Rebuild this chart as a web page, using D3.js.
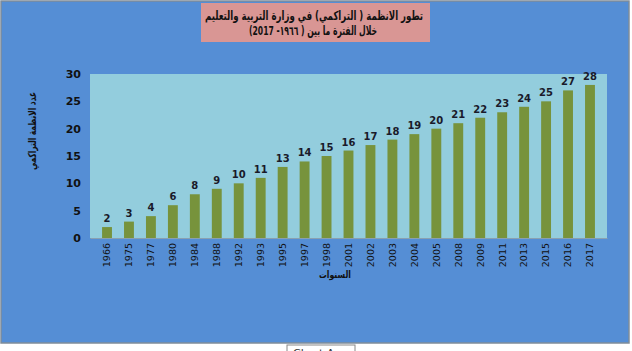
<!DOCTYPE html>
<html>
<head>
<meta charset="utf-8">
<script src="https://cdn.jsdelivr.net/npm/d3@7"></script>
<style>
  body { margin: 0; background: #fff; }
  text { font-family: "DejaVu Sans", Arial, sans-serif; }
</style>
</head>
<body>
<script>
const years = ["1966", "1975", "1977", "1980", "1984", "1988", "1992", "1993", "1995", "1997", "1998", "2001",
  "2002", "2003", "2004", "2005", "2008", "2009", "2011", "2013", "2015", "2016", "2017"];
const totals = [2, 3, 4, 6, 8, 9, 10, 11, 13, 14, 15, 16, 17, 18, 19, 20, 21, 22, 23, 24, 25, 27, 28];
const yTicks = [0, 5, 10, 15, 20, 25, 30];
const titleLines = ["تطور الانظمة  ( التراكمي) في وزارة التربية والتعليم", "خلال الفترة ما بين ( ١٩٦٦-  2017)"];
const titleWidths = [218, 128];

const data = years.map((y, i) => ({ year: y, value: totals[i] }));

const svg = d3.select("body").append("svg")
  .attr("width", 632)
  .attr("height", 351);

// chart area
svg.append("rect")
  .attr("x", 1).attr("y", 1)
  .attr("width", 628).attr("height", 342)
  .attr("fill", "#558ed5")
  .attr("stroke", "#7f8c99")
  .attr("stroke-width", 1.5);

const margin = { top: 74, left: 90 };
const width = 517;
const height = 164;

const g = svg.append("g")
  .attr("transform", "translate(" + margin.left + "," + margin.top + ")");

g.append("rect")
  .attr("width", width)
  .attr("height", height)
  .attr("fill", "#93cddd");

const x = d3.scaleBand().domain(years).range([0, width]).padding(0.55);
const y = d3.scaleLinear().domain([0, 30]).range([height, 0]);

g.selectAll(".bar")
  .data(data)
  .enter()
  .append("rect")
  .attr("class", "bar")
  .attr("x", (d) => x(d.year))
  .attr("y", (d) => y(d.value))
  .attr("width", x.bandwidth())
  .attr("height", (d) => height - y(d.value))
  .attr("fill", "#77933c");

g.selectAll(".lbl")
  .data(data)
  .enter()
  .append("text")
  .attr("class", "lbl")
  .attr("x", (d) => x(d.year) + x.bandwidth() / 2)
  .attr("y", (d) => y(d.value) - 5)
  .attr("text-anchor", "middle")
  .style("font-size", "10px")
  .style("font-weight", "bold")
  .attr("fill", "#1a1a2a")
  .text((d) => d.value);

const yAxis = g.append("g")
  .call(d3.axisLeft(y).tickValues(yTicks).tickSize(0).tickPadding(9));
yAxis.select(".domain").remove();
yAxis.selectAll("text")
  .style("font-size", "11px")
  .style("font-weight", "bold")
  .attr("fill", "#111");

const xAxis = g.append("g")
  .attr("transform", "translate(0," + height + ")")
  .call(d3.axisBottom(x).tickSize(0));
xAxis.select(".domain").attr("stroke", "#8aa0b0");
xAxis.selectAll("text")
  .attr("transform", "rotate(-90)")
  .attr("x", -5)
  .attr("y", 0)
  .attr("dy", "0.35em")
  .attr("text-anchor", "end")
  .style("font-size", "9.5px")
  .attr("fill", "#111");

// axis titles
svg.append("text")
  .attr("transform", "translate(36,131) rotate(-90)")
  .attr("text-anchor", "middle")
  .attr("textLength", 78)
  .attr("lengthAdjust", "spacingAndGlyphs")
  .style("font-size", "11px")
  .style("font-weight", "bold")
  .attr("fill", "#111")
  .text("عدد الانظمة  التراكمي");

svg.append("text")
  .attr("x", 335)
  .attr("y", 278)
  .attr("text-anchor", "middle")
  .attr("textLength", 32)
  .attr("lengthAdjust", "spacingAndGlyphs")
  .style("font-size", "10px")
  .style("font-weight", "bold")
  .attr("fill", "#111")
  .text("السنوات");

// title box
svg.append("rect")
  .attr("x", 201).attr("y", 3)
  .attr("width", 229).attr("height", 39)
  .attr("fill", "#d99694");

svg.selectAll(".title")
  .data(titleLines)
  .enter()
  .append("text")
  .attr("class", "title")
  .attr("x", (d, i) => (i === 0 ? 314 : 313))
  .attr("y", (d, i) => 20 + i * 15)
  .attr("text-anchor", "middle")
  .attr("textLength", (d, i) => titleWidths[i])
  .attr("lengthAdjust", "spacingAndGlyphs")
  .style("font-size", "12.5px")
  .style("font-weight", "bold")
  .attr("fill", "#111")
  .text((d) => d);

// "Chart Area" tooltip, cut off by the bottom edge
svg.append("rect")
  .attr("x", 287).attr("y", 345)
  .attr("width", 68).attr("height", 18)
  .attr("fill", "#fff")
  .attr("stroke", "#888");
svg.append("text")
  .attr("x", 293).attr("y", 357)
  .style("font-size", "11px")
  .attr("fill", "#333")
  .text("Chart Area");
</script>
</body>
</html>
